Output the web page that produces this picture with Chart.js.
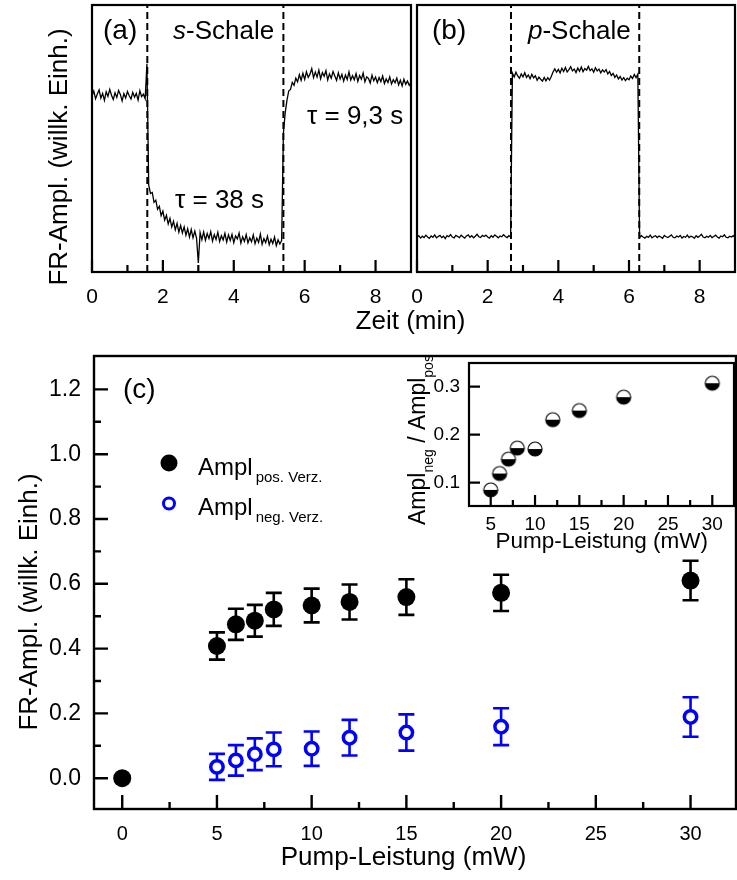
<!DOCTYPE html>
<html>
<head>
<meta charset="utf-8">
<script src="https://cdn.jsdelivr.net/npm/chart.js@4.4.0/dist/chart.umd.min.js"></script>
<style>
  html, body { margin: 0; padding: 0; background: #fff; }
  #wrap { position: relative; width: 737px; height: 880px; }
  #wrap canvas { position: absolute; left: 0; top: 0; }
</style>
</head>
<body>
<div id="wrap">
  <canvas id="chartA" width="737" height="880"></canvas>
  <canvas id="chartB" width="737" height="880"></canvas>
  <canvas id="chartC" width="737" height="880"></canvas>
  <canvas id="chartD" width="737" height="880"></canvas>
</div>
<script>
// --- DATA ---
// (a) s-Schale trace, one sample every 0.05 min from 0 to 9 min (arb. units 0..100)
const stepA = 0.05;
const traceA = [
  66.0, 67.8, 64.9, 66.7, 68.2, 65.1, 66.9, 64.3, 67.5, 65.8,
  68.4, 66.2, 64.6, 67.1, 65.4, 68.0, 66.5, 64.1, 66.8, 65.2,
  67.6, 66.0, 64.8, 67.3, 65.5, 66.9, 64.4, 67.9, 65.7, 66.6,
  64.9, 78.0, 32.5, 29.4, 29.8, 26.1, 26.9, 23.5, 24.6, 21.1,
  22.8, 19.4, 21.2, 18.0, 20.1, 16.9, 19.0, 15.8, 18.2, 14.9,
  17.4, 14.6, 16.9, 13.8, 16.2, 13.1, 15.9, 12.8, 15.3, 12.6,
  3.4, 14.8, 12.1, 15.0, 11.9, 14.4, 12.5, 15.1, 11.6, 14.0,
  12.2, 14.9, 11.4, 13.6, 12.0, 14.5, 11.2, 13.9, 11.8, 14.1,
  11.0, 13.5, 12.4, 14.6, 10.8, 13.2, 11.5, 14.0, 10.9, 12.8,
  11.3, 13.9, 10.6, 12.7, 11.1, 14.2, 10.4, 12.5, 11.0, 13.4,
  10.2, 12.3, 10.7, 13.1, 9.9, 12.0, 10.5, 11.8, 52.0, 59.5,
  64.3, 67.8, 68.4, 71.0, 69.9, 72.6, 71.2, 73.9, 71.8, 74.4,
  72.1, 75.0, 72.9, 74.1, 76.2, 72.8, 74.9, 73.0, 75.6, 72.4,
  74.7, 73.3, 75.4, 71.9, 74.2, 72.6, 75.1, 73.4, 71.8, 74.6,
  72.3, 74.0, 71.5, 73.8, 72.1, 74.9, 71.9, 73.5, 72.0, 74.3,
  71.4, 73.6, 72.2, 74.5, 71.2, 73.1, 72.5, 70.8, 73.7, 71.6,
  73.0, 70.9, 72.8, 71.3, 73.4, 70.6, 72.3, 71.0, 73.1, 70.4,
  72.0, 70.9, 72.6, 70.1, 71.8, 69.7, 72.2, 70.3, 71.5, 69.9,
  71.0
];
const switchA = [1.56, 5.40];

// (b) p-Schale trace, same sampling
const stepB = 0.05;
const traceB = [
  13.0, 13.6, 12.7, 13.4, 12.9, 13.8, 13.1, 12.6, 13.5, 13.0,
  13.9, 12.8, 13.3, 13.7, 12.9, 13.4, 12.5, 13.6, 13.2, 14.0,
  13.1, 12.8, 13.7, 13.3, 12.9, 13.8, 13.2, 12.7, 13.5, 13.9,
  13.0, 13.6, 12.8, 13.4, 14.1, 13.2, 12.9, 13.7, 13.3, 13.8,
  13.1, 12.7, 13.6, 13.0, 13.9, 13.4, 12.8, 13.5, 13.2, 14.0,
  13.3, 12.9, 13.6, 13.1,
  74.5, 73.0, 74.8, 73.4, 72.6, 74.2, 73.1, 74.6, 72.9, 73.8, 72.4,
  74.0, 72.7, 73.5, 71.8, 73.0, 72.2, 71.5, 72.9, 71.6, 72.8, 71.9,
  73.2, 74.9, 76.1, 74.8, 75.9, 74.6, 76.3, 75.1, 76.6, 74.9, 75.8,
  76.9, 75.3, 76.0, 74.7, 76.4, 75.2, 76.8, 75.0, 76.2, 75.6, 77.0,
  75.4, 76.1, 74.8, 76.5, 75.3, 76.0, 74.6, 75.7, 74.9, 75.8, 74.2,
  75.1, 73.6, 74.4, 72.9, 73.8, 72.3, 73.2, 71.9, 72.8, 71.7, 72.6,
  72.0, 73.4, 72.5, 74.0, 72.8, 74.1,
  12.9, 13.6, 13.1, 12.7, 13.4, 13.0, 13.8, 12.8, 13.3, 13.6,
  12.9, 13.5, 13.1, 12.6, 13.7, 13.2, 12.9, 13.4, 13.9, 13.0,
  12.8, 13.5, 13.1, 13.7, 12.7, 13.3, 13.0, 13.8, 12.9, 13.4,
  13.2, 12.6, 13.6, 13.0, 13.5, 14.1, 13.1, 12.8, 13.4, 13.0,
  13.7, 12.9, 13.3, 13.8, 13.1, 12.7, 13.5, 13.2, 13.9, 13.0,
  12.8, 13.4, 13.1, 13.6, 13.0
];
const switchB = [2.66, 6.29];
const timeTicks = [0, 1, 2, 3, 4, 5, 6, 7, 8];
const timeLabels = [0, 2, 4, 6, 8];

// (c) amplitudes vs pump power
const powerPos = [0, 5, 6, 7, 8, 10, 12, 15, 20, 30];
const amplPos = [0, 0.408, 0.475, 0.486, 0.521, 0.533, 0.544, 0.559, 0.572, 0.610];
const errPos = [0, 0.042, 0.048, 0.049, 0.051, 0.052, 0.054, 0.055, 0.056, 0.061];
const powerNeg = [5, 6, 7, 8, 10, 12, 15, 20, 30];
const amplNeg = [0.035, 0.055, 0.074, 0.089, 0.091, 0.125, 0.141, 0.159, 0.189];
const errNeg = [0.040, 0.047, 0.049, 0.052, 0.053, 0.055, 0.056, 0.057, 0.061];
const powerTicks = [0, 2.5, 5, 7.5, 10, 12.5, 15, 17.5, 20, 22.5, 25, 27.5, 30];
const powerLabels = [0, 5, 10, 15, 20, 25, 30];
const amplTicks = [0, 0.1, 0.2, 0.3, 0.4, 0.5, 0.6, 0.7, 0.8, 0.9, 1.0, 1.1, 1.2];
const amplLabels = [0, 0.2, 0.4, 0.6, 0.8, 1.0, 1.2];

// inset: ratio neg / pos
const powerRatio = [5, 6, 7, 8, 10, 12, 15, 20, 30];
const ratio = [0.085, 0.119, 0.149, 0.172, 0.170, 0.231, 0.250, 0.278, 0.307];
const insetXTicks = [5, 7.5, 10, 12.5, 15, 17.5, 20, 22.5, 25, 27.5, 30];
const insetXLabels = [5, 10, 15, 20, 25, 30];
const insetYTicks = [0.1, 0.2, 0.3];

// --- HELPERS ---
const FONT = "'Liberation Sans', Arial, sans-serif";
Chart.defaults.font.family = FONT;
Chart.defaults.color = '#000';
const W = 737, H = 880;

function drawRich(ctx, item) {
  ctx.save();
  ctx.translate(item.x, item.y);
  if (item.rot) ctx.rotate(item.rot);
  ctx.fillStyle = '#000';
  ctx.textBaseline = item.baseline || 'alphabetic';
  ctx.textAlign = 'left';
  const fontOf = p => (p.italic ? 'italic ' : '') + p.size + 'px ' + FONT;
  let total = 0;
  item.parts.forEach(p => { ctx.font = fontOf(p); total += ctx.measureText(p.t).width + (p.gap || 0); });
  let cx = item.align === 'center' ? -total / 2 : 0;
  item.parts.forEach(p => {
    ctx.font = fontOf(p);
    cx += p.gap || 0;
    ctx.fillText(p.t, cx, p.dy || 0);
    cx += ctx.measureText(p.t).width;
  });
  ctx.restore();
}

const textPlugin = items => ({
  id: 'texts',
  afterDraw(chart) { items.forEach(it => drawRich(chart.ctx, it)); }
});

// frame round the plot area plus inward tick marks
const framePlugin = o => ({
  id: 'frame',
  afterDraw(chart) {
    const { ctx, chartArea: a, scales } = chart;
    ctx.save();
    ctx.strokeStyle = '#000';
    ctx.lineWidth = o.width;
    ctx.strokeRect(a.left, a.top, a.right - a.left, a.bottom - a.top);
    ctx.beginPath();
    scales.x.ticks.forEach(t => {
      const px = scales.x.getPixelForValue(t.value);
      const len = t.label !== '' ? o.major : o.minor;
      ctx.moveTo(px, a.bottom); ctx.lineTo(px, a.bottom - len);
    });
    if (o.yTicks) {
      scales.y.ticks.forEach(t => {
        const py = scales.y.getPixelForValue(t.value);
        const len = t.label !== '' ? o.major : o.minor;
        ctx.moveTo(a.left, py); ctx.lineTo(a.left + len, py);
      });
    }
    ctx.stroke();
    ctx.restore();
  }
});

const errorBars = {
  id: 'errorBars',
  beforeDatasetsDraw(chart) {
    const { ctx, scales: { x, y } } = chart;
    chart.data.datasets.forEach(ds => {
      if (!ds.errors) return;
      ctx.save();
      ctx.strokeStyle = ds.errColor;
      ctx.lineWidth = 2.6;
      ctx.beginPath();
      ds.data.forEach((p, i) => {
        const e = ds.errors[i];
        if (!e) return;
        const px = x.getPixelForValue(p.x);
        const top = y.getPixelForValue(p.y + e), bot = y.getPixelForValue(p.y - e);
        ctx.moveTo(px, top); ctx.lineTo(px, bot);
        ctx.moveTo(px - 8, top); ctx.lineTo(px + 8, top);
        ctx.moveTo(px - 8, bot); ctx.lineTo(px + 8, bot);
      });
      ctx.stroke();
      ctx.restore();
    });
  }
};

const legendC = {
  id: 'legendC',
  afterDraw(chart) {
    const ctx = chart.ctx;
    ctx.save();
    ctx.fillStyle = '#000';
    ctx.beginPath(); ctx.arc(169, 463, 8.5, 0, 2 * Math.PI); ctx.fill();
    ctx.strokeStyle = '#0000ff'; ctx.lineWidth = 3; ctx.fillStyle = '#fff';
    ctx.beginPath(); ctx.arc(169, 503.5, 5.5, 0, 2 * Math.PI); ctx.fill(); ctx.stroke();
    ctx.restore();
    drawRich(ctx, { x: 198, y: 475, parts: [{ t: 'Ampl', size: 24 }, { t: 'pos. Verz.', size: 15, dy: 7, gap: 3 }] });
    drawRich(ctx, { x: 198, y: 515, parts: [{ t: 'Ampl', size: 24 }, { t: 'neg. Verz.', size: 15, dy: 7, gap: 3 }] });
  }
};

function halfMarker(r) {
  const c = document.createElement('canvas');
  const s = 2 * r + 4, m = s / 2;
  c.width = s; c.height = s;
  const g = c.getContext('2d');
  g.fillStyle = '#fff'; g.beginPath(); g.arc(m, m, r, Math.PI, 2 * Math.PI); g.fill();
  g.fillStyle = '#000'; g.beginPath(); g.arc(m, m, r, 0, Math.PI); g.fill();
  g.lineWidth = 1.2; g.strokeStyle = '#000';
  g.beginPath(); g.arc(m, m, r, 0, 2 * Math.PI); g.stroke();
  return c;
}

const toPoints = (vals, step) => vals.map((v, i) => ({ x: i * step, y: v }));
const switchLines = ts => ts.map(t => ({
  data: [{ x: t, y: 0 }, { x: t, y: 100 }],
  borderColor: '#000', borderWidth: 2, borderDash: [7, 4], pointRadius: 0
}));

const baseOpts = { responsive: false, animation: false, events: [],
  plugins: { legend: { display: false }, tooltip: { enabled: false } } };

function timeChart(id, trace, step, switches, area, items) {
  new Chart(document.getElementById(id), {
    type: 'line',
    data: { datasets: [
      { data: toPoints(trace, step), borderColor: '#000', borderWidth: 1.3, pointRadius: 0 },
      ...switchLines(switches)
    ] },
    options: {
      ...baseOpts,
      layout: { autoPadding: false, padding: { left: area.left, top: area.top, right: W - area.right, bottom: 0 } },
      scales: {
        x: {
          type: 'linear', min: 0, max: 9, bounds: 'data',
          afterBuildTicks: s => { s.ticks = timeTicks.map(v => ({ value: v })); },
          afterFit: s => { s.height = H - area.bottom; },
          grid: { display: false, drawTicks: false }, border: { display: false },
          ticks: { autoSkip: false, maxRotation: 0, padding: 13, font: { size: 21 },
            callback: v => timeLabels.includes(v) ? String(v) : '' }
        },
        y: { type: 'linear', min: 0, max: 100, display: false }
      }
    },
    plugins: [framePlugin({ width: 2.2, major: 12, minor: 7, yTicks: false }), textPlugin(items)]
  });
}

// --- CHART (a) ---
timeChart('chartA', traceA, stepA, switchA, { left: 92, top: 5, right: 411, bottom: 272 }, [
  { x: 103, y: 39, parts: [{ t: '(a)', size: 28 }] },
  { x: 173, y: 39, parts: [{ t: 's', size: 26, italic: true }, { t: '-Schale', size: 26 }] },
  { x: 175, y: 208, parts: [{ t: 'τ = 38 s', size: 26 }] },
  { x: 307, y: 124, parts: [{ t: 'τ = 9,3 s', size: 26 }] },
  { x: 60, y: 157, rot: -Math.PI / 2, align: 'center', baseline: 'middle', parts: [{ t: 'FR-Ampl. (willk. Einh.)', size: 26 }] },
  { x: 410.5, y: 322, align: 'center', baseline: 'middle', parts: [{ t: 'Zeit (min)', size: 26 }] }
]);

// --- CHART (b) ---
timeChart('chartB', traceB, stepB, switchB, { left: 417, top: 5, right: 735, bottom: 272 }, [
  { x: 432, y: 39, parts: [{ t: '(b)', size: 28 }] },
  { x: 528, y: 39, parts: [{ t: 'p', size: 26, italic: true }, { t: '-Schale', size: 26 }] }
]);

// --- CHART (c) ---
const areaC = { left: 94, top: 356, right: 736, bottom: 809 };
new Chart(document.getElementById('chartC'), {
  type: 'scatter',
  data: { datasets: [
    { data: powerPos.map((p, i) => ({ x: p, y: amplPos[i] })), errors: errPos, errColor: '#000',
      pointRadius: 9, pointBackgroundColor: '#000', pointBorderWidth: 0 },
    { data: powerNeg.map((p, i) => ({ x: p, y: amplNeg[i] })), errors: errNeg, errColor: '#0000ff',
      pointRadius: 6.2, pointBackgroundColor: '#fff', pointBorderColor: '#0000ff', pointBorderWidth: 3.5 }
  ] },
  options: {
    ...baseOpts,
    layout: { autoPadding: false, padding: { left: 0, top: areaC.top, right: W - areaC.right, bottom: 0 } },
    scales: {
      x: {
        type: 'linear', min: -1.49, max: 32.4, bounds: 'data',
        afterBuildTicks: s => { s.ticks = powerTicks.map(v => ({ value: v })); },
        afterFit: s => { s.height = H - areaC.bottom; },
        grid: { display: false, drawTicks: false }, border: { display: false },
        ticks: { autoSkip: false, maxRotation: 0, padding: 13, font: { size: 20 },
          callback: v => powerLabels.includes(v) ? String(v) : '' }
      },
      y: {
        type: 'linear', min: -0.095, max: 1.303, bounds: 'data',
        afterBuildTicks: s => { s.ticks = amplTicks.map(v => ({ value: v })); },
        afterFit: s => { s.width = areaC.left; },
        grid: { display: false, drawTicks: false }, border: { display: false },
        ticks: { autoSkip: false, padding: 13, font: { size: 23 },
          callback: v => amplLabels.includes(v) ? v.toFixed(1) : '' }
      }
    }
  },
  plugins: [errorBars, framePlugin({ width: 2.4, major: 14, minor: 7, yTicks: true }), legendC, textPlugin([
    { x: 123, y: 398, parts: [{ t: '(c)', size: 28 }] },
    { x: 30, y: 602, rot: -Math.PI / 2, align: 'center', baseline: 'middle', parts: [{ t: 'FR-Ampl. (willk. Einh.)', size: 26 }] },
    { x: 403.5, y: 858, align: 'center', baseline: 'middle', parts: [{ t: 'Pump-Leistung (mW)', size: 26 }] }
  ])]
});

// --- INSET: Ampl_neg / Ampl_pos ---
const areaD = { left: 469, top: 363, right: 734, bottom: 506 };
new Chart(document.getElementById('chartD'), {
  type: 'scatter',
  data: { datasets: [
    { data: powerRatio.map((p, i) => ({ x: p, y: ratio[i] })), pointStyle: halfMarker(7), pointRadius: 7 }
  ] },
  options: {
    ...baseOpts,
    layout: { autoPadding: false, padding: { left: 0, top: areaD.top, right: W - areaD.right, bottom: 0 } },
    scales: {
      x: {
        type: 'linear', min: 2.55, max: 32.45, bounds: 'data',
        afterBuildTicks: s => { s.ticks = insetXTicks.map(v => ({ value: v })); },
        afterFit: s => { s.height = H - areaD.bottom; },
        grid: { display: false, drawTicks: false }, border: { display: false },
        ticks: { autoSkip: false, maxRotation: 0, padding: 7.6, font: { size: 19 },
          callback: v => insetXLabels.includes(v) ? String(v) : '' }
      },
      y: {
        type: 'linear', min: 0.0515, max: 0.349, bounds: 'data',
        afterBuildTicks: s => { s.ticks = insetYTicks.map(v => ({ value: v })); },
        afterFit: s => { s.width = areaD.left; },
        grid: { display: false, drawTicks: false }, border: { display: false },
        ticks: { autoSkip: false, padding: 9, font: { size: 19 }, callback: v => v.toFixed(1) }
      }
    }
  },
  plugins: [framePlugin({ width: 2.2, major: 11, minor: 6, yTicks: true }), textPlugin([
    { x: 601.7, y: 542, align: 'center', baseline: 'middle', parts: [{ t: 'Pump-Leistung (mW)', size: 22.5 }] },
    { x: 425, y: 525, rot: -Math.PI / 2, parts: [
      { t: 'Ampl', size: 23 }, { t: 'neg', size: 14, dy: 8 }, { t: ' / ', size: 23 },
      { t: 'Ampl', size: 23 }, { t: 'pos', size: 14, dy: 8 }
    ] }
  ])]
});
</script>
</body>
</html>
